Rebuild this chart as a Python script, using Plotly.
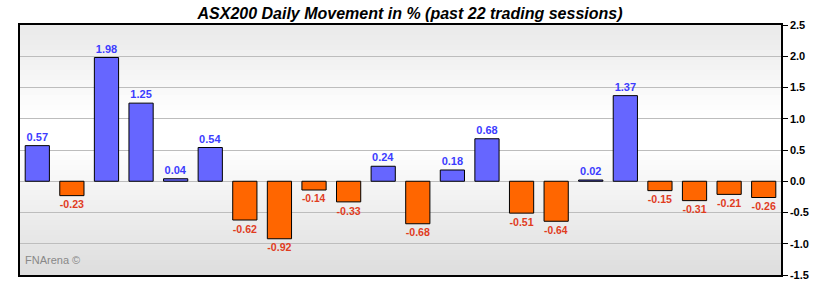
import plotly.graph_objects as go

sessions = list(range(1, 23))
values = [0.57, -0.23, 1.98, 1.25, 0.04, 0.54, -0.62, -0.92, -0.14, -0.33, 0.24,
          -0.68, 0.18, 0.68, -0.51, -0.64, 0.02, 1.37, -0.15, -0.31, -0.21, -0.26]
tick_vals = [-1.5, -1.0, -0.5, 0.0, 0.5, 1.0, 1.5, 2.0, 2.5]
tick_text = ["-1.5", "-1.0", "-0.5", "0.0", "0.5", "1.0", "1.5", "2.0", "2.5"]
title = "ASX200 Daily Movement in % (past 22 trading sessions)"

bar_colors = ["#6666ff" if v >= 0 else "#ff6600" for v in values]
text_colors = ["#3c3cff" if v >= 0 else "#e03c1e" for v in values]
labels = [f"<b>{v:.2f}</b>" for v in values]

fig = go.Figure()
fig.add_trace(go.Bar(
    x=sessions, y=values,
    marker=dict(color=bar_colors, line=dict(color="#000000", width=1)),
    width=0.7,
    text=labels, textposition="outside", cliponaxis=False,
    textfont=dict(family="Liberation Sans, Arial", size=11, color=text_colors),
    hoverinfo="skip",
))

# background gradient (top light gray -> white -> gray at bottom)
shapes = []
n = 50
for i in range(n):
    t = i / (n - 1)  # 0 bottom, 1 top
    if t < 0.5:
        f = t / 0.5
        c = int(222 + (255 - 222) * f)
    elif t < 0.65:
        c = 255
    else:
        f = (t - 0.65) / 0.35
        c = int(255 + (234 - 255) * f)
    shapes.append(dict(type="rect", xref="paper", yref="paper",
                       x0=0, x1=1, y0=i / n, y1=(i + 1) / n,
                       fillcolor=f"rgb({c},{c},{c})", line=dict(width=0), layer="below"))

fig.update_layout(
    width=820, height=290,
    margin=dict(l=20, r=39, t=25, b=15, autoexpand=False),
    paper_bgcolor="#ffffff",
    plot_bgcolor="rgba(0,0,0,0)",
    shapes=shapes,
    showlegend=False,
    bargap=0.3,
    title=dict(text=f"<b><i>{title}</i></b>", x=0.5, xanchor="center",
               y=0.955, yanchor="middle",
               font=dict(family="Liberation Sans, Arial", size=16, color="#000000")),
    xaxis=dict(range=[0.5, 22.5], showticklabels=False, ticks="", showgrid=False,
               zeroline=False, showline=True, linecolor="#000000", linewidth=1.5,
               mirror=True, automargin=False),
    yaxis=dict(range=[-1.5, 2.5], side="right", tickvals=tick_vals,
               ticktext=[f"<b>{t}</b>" for t in tick_text],
               ticks="outside", ticklen=5, tickcolor="#000000", automargin=False,
               tickfont=dict(family="Liberation Sans, Arial", size=11, color="#000000"),
               showgrid=True, gridcolor="#bdbdbd", gridwidth=1, zeroline=False,
               showline=True, linecolor="#000000", linewidth=1.5, mirror=True),
    annotations=[dict(text="FNArena ©", xref="paper", yref="paper", x=0.004, y=0.06,
                      xanchor="left", yanchor="middle", showarrow=False,
                      font=dict(family="Liberation Sans, Arial", size=11, color="#888888"))],
)

fig.write_html("out.html")
